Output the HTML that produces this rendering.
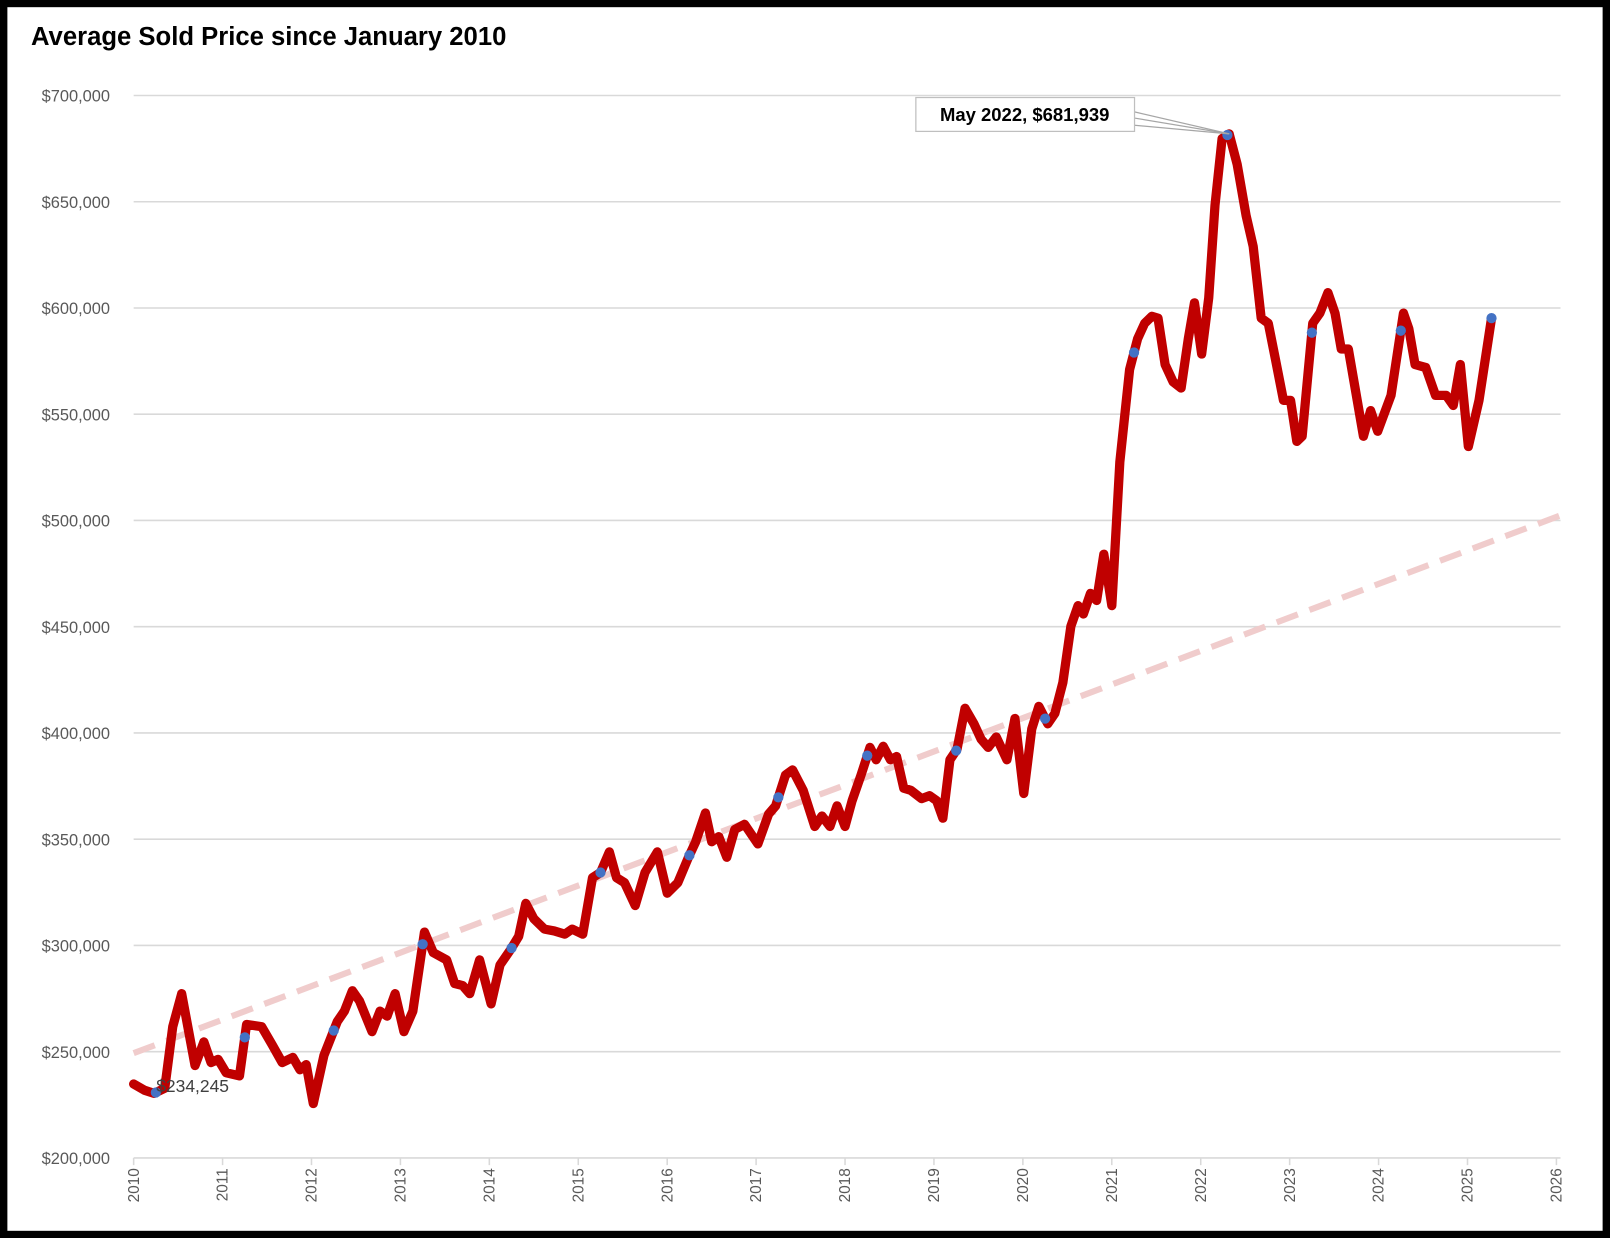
<!DOCTYPE html>
<html><head><meta charset="utf-8"><style>
html,body{margin:0;padding:0;background:#000;}
svg{display:block;font-family:"Liberation Sans",sans-serif;}
</style></head><body>
<svg id="chart" width="1610" height="1238" viewBox="0 0 1568 1206" xmlns="http://www.w3.org/2000/svg">
<rect x="0" y="0" width="1568" height="1206" fill="#000"/>
<rect x="7" y="7" width="1554" height="1192" fill="#fff"/>
<text x="30" y="44" font-size="25" font-weight="bold" fill="#000">Average Sold Price since January 2010</text>
<g id="grid"></g><g id="yaxis"></g><g id="xaxis"></g><g id="trend"></g><g id="series"></g><g id="dots"></g><g id="annot"></g>
</svg>
<script>
const yTicks=[200000,250000,300000,350000,400000,450000,500000,550000,600000,650000,700000];
const xTicks=[2010,2011,2012,2013,2014,2015,2016,2017,2018,2019,2020,2021,2022,2023,2024,2025,2026];
const dates=[2010.00,2010.12,2010.23,2010.35,2010.44,2010.54,2010.69,2010.79,2010.87,2010.95,2011.04,2011.19,2011.27,2011.44,2011.56,2011.67,2011.79,2011.87,2011.94,2012.02,2012.14,2012.29,2012.37,2012.46,2012.54,2012.68,2012.77,2012.85,2012.94,2013.04,2013.14,2013.27,2013.37,2013.52,2013.61,2013.70,2013.78,2013.89,2014.02,2014.12,2014.24,2014.33,2014.41,2014.50,2014.62,2014.73,2014.85,2014.93,2015.05,2015.16,2015.25,2015.35,2015.43,2015.52,2015.64,2015.75,2015.89,2016.00,2016.12,2016.24,2016.32,2016.43,2016.50,2016.58,2016.67,2016.76,2016.87,2017.02,2017.14,2017.22,2017.33,2017.41,2017.53,2017.66,2017.74,2017.83,2017.91,2018.00,2018.08,2018.18,2018.28,2018.35,2018.43,2018.51,2018.58,2018.66,2018.74,2018.86,2018.95,2019.03,2019.10,2019.18,2019.26,2019.35,2019.45,2019.53,2019.61,2019.70,2019.82,2019.91,2020.01,2020.10,2020.18,2020.28,2020.36,2020.45,2020.54,2020.62,2020.68,2020.76,2020.83,2020.91,2021.00,2021.09,2021.20,2021.29,2021.37,2021.45,2021.52,2021.60,2021.69,2021.78,2021.86,2021.93,2022.01,2022.09,2022.16,2022.24,2022.32,2022.41,2022.51,2022.59,2022.68,2022.76,2022.84,2022.93,2023.01,2023.08,2023.14,2023.26,2023.34,2023.43,2023.51,2023.58,2023.66,2023.83,2023.91,2023.99,2024.14,2024.28,2024.34,2024.41,2024.53,2024.64,2024.76,2024.84,2024.92,2025.01,2025.13,2025.27];
const prices=[234800,231900,230400,232800,261800,277300,243500,254600,244900,246400,240100,238600,262800,261800,253100,244900,247300,241500,243900,225600,248300,264200,269100,278700,273900,259400,269100,266700,277300,259400,269100,306300,296600,293200,282100,281100,277300,293200,272500,290800,298100,304300,319800,312600,307700,306800,305300,307700,305300,331900,334300,344000,331900,329500,318800,334300,344000,324600,329500,341500,348800,362300,348800,351200,341500,354600,357000,347800,361800,365700,380200,382600,372900,356000,360900,356000,365700,356000,368100,380200,393200,387400,393700,387400,388900,374000,373000,369100,370500,368100,359900,387400,392300,411600,404300,397100,393200,398100,387400,406800,371500,401900,412500,404300,409200,423700,450200,459900,456000,465700,462300,484100,459900,527500,571000,585500,592800,596100,595200,573400,565200,562300,585500,602400,578300,604800,648300,679700,681939,667600,643500,629000,595200,592800,575800,556500,556500,537200,539600,592800,597600,607200,597600,580700,580700,539600,551700,542000,558900,597600,590300,573400,572000,558900,558900,554100,573400,534800,556500,595200];
const markerDates=[2010.25,2011.25,2012.25,2013.25,2014.25,2015.25,2016.25,2017.25,2018.25,2019.25,2020.25,2021.25,2022.30,2023.25,2024.25,2025.27];
const trendYears=[2010,2026.11];
const trendValues=[249300,503400];
const minLabel="$234,245";
const peakLabel="May 2022, $681,939";

const NS="http://www.w3.org/2000/svg";
const X0=130,X1=1516,Y0=1128,Y1=93;
const xs=d=>X0+(d-2010)/(2026-2010)*(X1-X0);
const ys=v=>Y0-(v-200000)/(700000-200000)*(Y0-Y1);
function mk(tag,attrs,parent){const e=document.createElementNS(NS,tag);for(const k in attrs)e.setAttribute(k,attrs[k]);document.getElementById(parent).appendChild(e);return e;}
const fmt=v=>"$"+v.toLocaleString("en-US");

yTicks.forEach(t=>{
  const l=mk("line",{x1:X0,x2:1520,y1:ys(t),y2:ys(t),stroke:"#d9d9d9","stroke-width":1.5},"grid");
  
  
  const tx=mk("text",{x:107,y:ys(t)+6,"text-anchor":"end","font-size":16,fill:"#595959"},"yaxis");
  tx.textContent=fmt(t);
  
  
});
xTicks.forEach(t=>{
  const l=mk("line",{x1:xs(t),x2:xs(t),y1:Y0,y2:Y0+7,stroke:"#d9d9d9","stroke-width":1.5},"xaxis");
  
  
  const tx=mk("text",{x:0,y:0,"text-anchor":"end","font-size":15,fill:"#595959",transform:`translate(${xs(t)+5},${Y0+10}) rotate(-90)`},"xaxis");
  tx.textContent=t;
  
  
});
const tr=mk("line",{x1:xs(trendYears[0]),y1:ys(trendValues[0]),x2:xs(trendYears[1]),y2:ys(trendValues[1]),stroke:"#f0cccc","stroke-width":6,"stroke-dasharray":"22 12"},"trend");



let d="";
dates.forEach((t,i)=>{d+=(i?"L":"M")+xs(t).toFixed(1)+","+ys(prices[i]).toFixed(1);});
const p=mk("path",{d:d,fill:"none",stroke:"#c00000","stroke-width":9,"stroke-linejoin":"round","stroke-linecap":"round"},"series");



function interp(t){for(let i=1;i<dates.length;i++){if(dates[i]>=t){const f=(t-dates[i-1])/(dates[i]-dates[i-1]);return prices[i-1]+f*(prices[i]-prices[i-1]);}}return prices[prices.length-1];}
markerDates.forEach(t=>{
  const c=mk("circle",{cx:xs(t),cy:ys(interp(t)),r:5,fill:"#4472c4"},"dots");
  
  
});
const ml=mk("text",{x:152,y:1064,"font-size":17,fill:"#404040"},"annot");
ml.textContent=minLabel;


const px=xs(2022.32),py=ys(681939);
[[1105,109],[1105,115],[1105,122]].forEach(q=>{
  const l=mk("line",{x1:q[0],y1:q[1],x2:px,y2:py,stroke:"#a6a6a6","stroke-width":1.2},"annot");
  
  
});
const bx=mk("rect",{x:892,y:95,width:213,height:33,fill:"#fff",stroke:"#bfbfbf","stroke-width":1.2},"annot");


const pl=mk("text",{x:998,y:118,"text-anchor":"middle","font-size":18,"font-weight":"bold",fill:"#000"},"annot");
pl.textContent=peakLabel;


</script>
</body></html>
